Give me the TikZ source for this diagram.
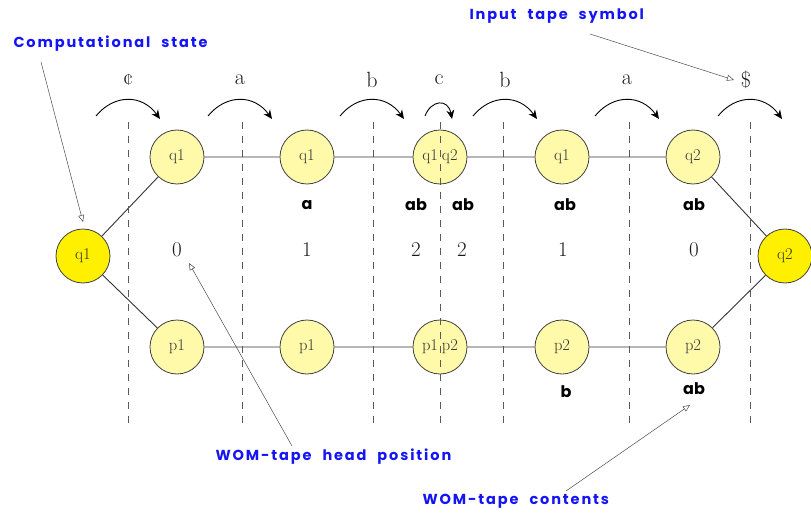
\documentclass[tikz,border=0pt]{standalone}
\usepackage{fontspec}
\usetikzlibrary{arrows.meta}
\newfontfamily\notefont[LetterSpace=13,WordSpace=2.2]{Poppins}
\newfontfamily\tapefont{Poppins}
\definecolor{statefill}{RGB}{255,250,170}
\definecolor{endfill}{RGB}{255,240,0}
\definecolor{notecol}{RGB}{20,20,245}
\tikzset{
  state/.style={circle,draw=black!75,fill=statefill,minimum size=54pt,inner sep=0pt,
    line width=0.8pt,font=\fontsize{16.5}{16.5}\selectfont,text=black!80},
  endstate/.style={state,fill=endfill},
  edge/.style={draw=black!80,line width=0.9pt},
  cell/.style={draw=black!65,line width=0.9pt,dash pattern=on 7pt off 7pt},
  move/.style={line width=0.9pt,-{Stealth[length=9pt,width=8pt]}},
  sym/.style={font=\fontsize{22}{22}\selectfont,text=black!90},
  headpos/.style={font=\fontsize{21}{21}\selectfont,text=black!90},
  wom/.style={font=\tapefont\bfseries\fontsize{16}{16}\selectfont},
  note/.style={font=\notefont\bfseries\fontsize{14.5}{15}\selectfont,text=notecol},
  pointer/.style={draw=black!70,line width=0.5pt,-{Triangle[open,length=7pt,width=6pt]}}
}
\begin{document}
\begin{tikzpicture}[x=1pt,y=-1pt]
\useasboundingbox (0,0) rectangle (811,516);

% states of the two runs
\node[endstate] (L) at (83,256) {q1};
\node[endstate] (R) at (785,256) {q2};
\node[state] (t1) at (177,157) {q1};
\node[state] (t2) at (307,157) {q1};
\node[state] (t3) at (440,157) {q1\hspace{4pt}q2};
\node[state] (t4) at (562,157) {q1};
\node[state] (t5) at (693,157) {q2};
\node[state] (b1) at (177,347) {p1};
\node[state] (b2) at (307,347) {p1};
\node[state] (b3) at (440,347) {p1\hspace{4pt}p2};
\node[state] (b4) at (562,347) {p2};
\node[state] (b5) at (693,347) {p2};

\draw[edge] (L) -- (t1) -- (t2) -- (t3) -- (t4) -- (t5) -- (R);
\draw[edge] (L) -- (b1) -- (b2) -- (b3) -- (b4) -- (b5) -- (R);

% cell boundaries of the input tape
\foreach \x in {128,242,373,440,503,629,750}
  \draw[cell] (\x,122) -- (\x,424);

% input symbols and head moves
\foreach \x/\s in {128/\textcent,240/a,372/b,505/b,627/a}
  \node[sym] at (\x,80) {\s};
\node[sym] (dollar) at (746,80) {\$};
\node[sym] at (439,80) {c};
\foreach \x in {128,240,372,505,627,750}
  \draw[move] (\x-32,116) .. controls (\x-14,94) and (\x+14,94) .. (\x+32,119);
\draw[move] (425,116) .. controls (431,100) and (448,98) .. (452,119);

% WOM-tape head positions
\node[headpos] (h0) at (177,250) {0};
\foreach \x/\n in {307/1,416/2,462/2,563/1,694/0}
  \node[headpos] at (\x,250) {\n};

% WOM-tape contents
\foreach \x/\w in {307/a,416/ab,463/ab,565/ab,694/ab}
  \node[wom] at (\x,205) {\w};
\node[wom] at (566,392) {b};
\node[wom] (cab) at (694,389) {ab};

% annotations
\node[note,anchor=west] (n1) at (10,44) {Computational state};
\node[note,anchor=west] (n2) at (466,16) {Input tape symbol};
\node[note,anchor=west] (n3) at (212,457) {WOM-tape head position};
\node[note,anchor=west] (n4) at (419,501) {WOM-tape contents};
\coordinate (n1s) at (41,62);
\coordinate (n2s) at (590,34);
\coordinate (n3s) at (292,446);
\coordinate (n4s) at (566,491);
\draw[pointer] (n1s) -- (83,222);
\draw[pointer] (n2s) -- (734,80);
\draw[pointer] (n3s) -- (189,263);
\draw[pointer] (n4s) -- (690,405);
\end{tikzpicture}
\end{document}
